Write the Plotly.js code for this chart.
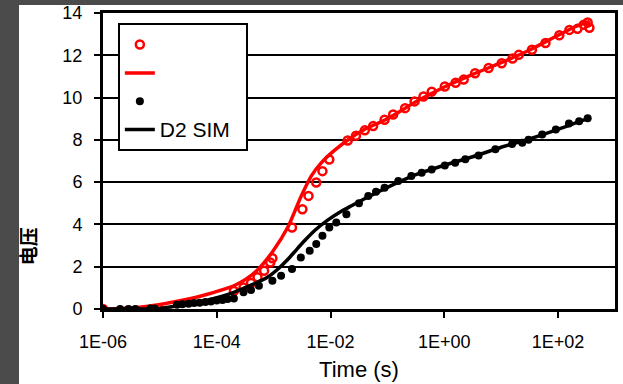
<!DOCTYPE html>
<html>
<head>
<meta charset="utf-8">
<script src="https://cdn.plot.ly/plotly-3.0.1.min.js"></script>
<style>
  html, body { margin: 0; padding: 0; background: #4b4b4b; width: 623px; height: 384px; overflow: hidden; }
  #paper { position: absolute; left: 19px; top: 5px; width: 604px; height: 379px; background: #fff; }
  #chart { position: absolute; left: 0; top: 0; width: 623px; height: 384px; }
</style>
</head>
<body>
<div id="paper"></div>
<div id="chart"></div>
<script>
// ---- data (time in seconds, value) ----
const d1ExpTime = [1e-6, 9.5e-6, 2.0e-4, 2.95e-4, 4.0e-4, 5.2e-4, 6.8e-4, 8.7e-4, 9.5e-4, 2.1e-3, 3.2e-3, 4.1e-3, 5.6e-3, 7.2e-3, 9.5e-3,
  0.020, 0.028, 0.040, 0.056, 0.089, 0.126, 0.204, 0.30, 0.43, 0.60, 1.02, 1.58, 2.19, 3.47, 6.0, 10.2, 15.8, 20.4, 34.7, 60, 105, 158, 219, 282, 331, 355];
const d1ExpVal = [0, 0, 0.85, 1.02, 1.23, 1.50, 1.81, 2.20, 2.40, 3.85, 4.72, 5.35, 5.98, 6.52, 7.07,
  7.97, 8.20, 8.45, 8.65, 8.95, 9.20, 9.50, 9.82, 10.05, 10.28, 10.52, 10.70, 10.85, 11.15, 11.40, 11.62, 11.85, 12.02, 12.26, 12.58, 12.95, 13.20, 13.25, 13.45, 13.55, 13.30];

const d1SimTime = [1e-6, 3.2e-6, 8.9e-6, 3.5e-5, 5.1e-5, 1.4e-4, 2.0e-4, 3.2e-4, 5.2e-4, 9.5e-4, 1.8e-3, 3.0e-3, 4.6e-3, 6.8e-3, 0.0117, 0.0229, 0.040, 0.10, 0.316, 1.0, 3.16, 10, 31.6, 100, 200, 363];
const d1SimVal  = [0, 0.05, 0.19, 0.50, 0.60, 0.95, 1.10, 1.40, 1.85, 2.70, 3.90, 5.30, 6.30, 6.90, 7.50, 8.10, 8.50, 9.00, 9.80, 10.50, 11.10, 11.65, 12.25, 12.95, 13.35, 13.60];

const d2ExpTime = [1e-6, 2.0e-6, 2.8e-6, 3.7e-6, 6.8e-6, 8.1e-6, 2.0e-5, 2.5e-5, 3.2e-5, 4.0e-5, 5.0e-5, 6.3e-5, 7.9e-5, 1.0e-4, 1.26e-4, 1.55e-4, 2.0e-4,
  2.95e-4, 4.0e-4, 5.5e-4, 9.5e-4, 1.35e-3, 2.1e-3, 3.0e-3, 4.3e-3, 5.6e-3, 7.2e-3, 9.5e-3, 0.0126, 0.019, 0.0316, 0.046, 0.063, 0.089, 0.155, 0.263, 0.40, 0.60, 1.02, 1.55, 2.34, 4.0, 7.9, 15.5, 23.4, 30.2, 52.5, 91.2, 155, 234, 331];
const d2ExpVal  = [0, 0, 0, 0, 0.02, 0.02, 0.20, 0.22, 0.25, 0.28, 0.30, 0.33, 0.36, 0.40, 0.43, 0.47, 0.50,
  0.79, 0.90, 1.10, 1.34, 1.57, 1.89, 2.44, 2.75, 3.07, 3.46, 3.85, 4.09, 4.48, 5.00, 5.35, 5.55, 5.74, 6.05, 6.29, 6.45, 6.60, 6.79, 6.92, 7.08, 7.26, 7.55, 7.80, 7.86, 8.00, 8.25, 8.49, 8.77, 8.88, 9.02];

const d2SimTime = [1e-6, 1e-5, 2.0e-5, 5.1e-5, 2.0e-4, 7.8e-4, 1.26e-3, 1.78e-3, 2.5e-3, 3.55e-3, 5.2e-3, 8.9e-3, 0.0155, 0.0229, 0.0457, 0.10, 0.316, 1.0, 3.16, 10, 31.6, 100, 331];
const d2SimVal  = [0, 0.03, 0.15, 0.32, 0.79, 1.50, 1.95, 2.35, 2.80, 3.25, 3.70, 4.20, 4.62, 4.87, 5.30, 5.75, 6.35, 6.80, 7.20, 7.65, 8.05, 8.50, 9.00];

const xTickVals = [1e-6, 1e-4, 1e-2, 1, 100];
const xTickText = ['1E-06', '1E-04', '1E-02', '1E+00', '1E+02'];
const legendNames = [' ', ' ', ' ', '<span style="font-size:21px">D2 SIM</span>&nbsp;&nbsp;'];
const yLabel = '<b>电压</b>';

const FONT = '"Liberation Sans", Arial, sans-serif';

const traces = [
  { x: d1ExpTime, y: d1ExpVal, name: legendNames[0], mode: 'markers', type: 'scatter',
    marker: { symbol: 'circle-open', color: '#ff0000', size: 8, line: { width: 2.5, color: '#ff0000' } } },
  { x: d1SimTime, y: d1SimVal, name: legendNames[1], mode: 'lines', type: 'scatter',
    line: { color: '#ff0000', width: 3.5, shape: 'spline', smoothing: 0.6 } },
  { x: d2ExpTime, y: d2ExpVal, name: legendNames[2], mode: 'markers', type: 'scatter',
    marker: { symbol: 'circle', color: '#000000', size: 8 } },
  { x: d2SimTime, y: d2SimVal, name: legendNames[3], mode: 'lines', type: 'scatter',
    line: { color: '#000000', width: 3.5, shape: 'spline', smoothing: 0.6 } }
];

const layout = {
  width: 623, height: 384,
  margin: { l: 103, r: 8, t: 13, b: 75 },
  paper_bgcolor: 'rgba(0,0,0,0)', plot_bgcolor: '#ffffff',
  font: { family: FONT, color: '#000', size: 18 },
  showlegend: true,
  legend: {
    x: 0.029, y: 0.965, xanchor: 'left', yanchor: 'top',
    bgcolor: '#ffffff', bordercolor: '#000', borderwidth: 2,
    font: { family: FONT, size: 19.5, color: '#000' },
    itemwidth: 30, tracegroupgap: 0
  },
  xaxis: {
    type: 'log', range: [-6, 3],
    tickvals: xTickVals, ticktext: xTickText,
    showgrid: false, zeroline: false,
    showline: true, linecolor: '#000', linewidth: 3, mirror: true,
    ticks: 'outside', ticklen: 6, tickwidth: 2, tickcolor: '#000',
    tickfont: { family: FONT, size: 18, color: '#000' },
    ticklabelstandoff: 8,
    title: { text: 'Time (s)', font: { family: FONT, size: 22, color: '#000' }, standoff: 12 }
  },
  yaxis: {
    range: [0, 14], dtick: 2, tick0: 0,
    showgrid: true, gridcolor: '#000', gridwidth: 2, zeroline: false,
    showline: true, linecolor: '#000', linewidth: 3, mirror: true,
    ticks: 'outside', ticklen: 6, tickwidth: 2, tickcolor: '#000',
    tickfont: { family: FONT, size: 18, color: '#000' },
    ticklabelstandoff: 8
  },
  annotations: [{
    xref: 'paper', yref: 'paper', x: -0.146, y: 0.213, xanchor: 'center', yanchor: 'middle',
    text: yLabel, textangle: -90, showarrow: false,
    font: { family: '"Noto Sans CJK SC", sans-serif', size: 19, color: '#000' }
  }]
};

Plotly.newPlot('chart', traces, layout, { staticPlot: true, displayModeBar: false });
</script>
</body>
</html>
